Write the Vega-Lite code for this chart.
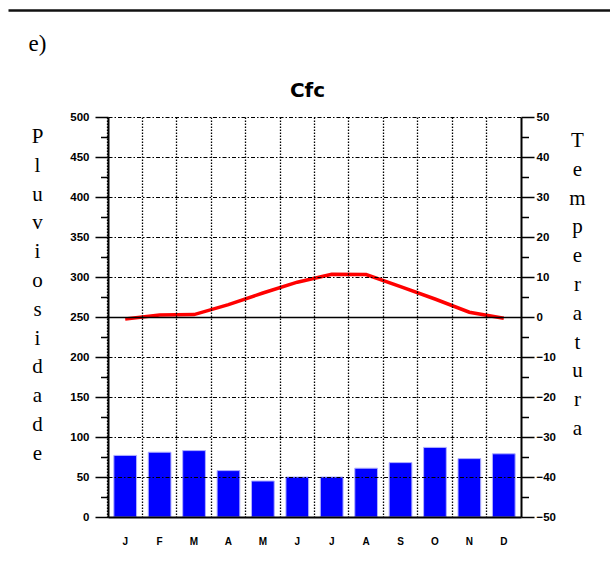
{
  "$schema": "https://vega.github.io/schema/vega-lite/v6.json",
  "width": 413,
  "height": 400,
  "autosize": {"type": "none"},
  "padding": {"left": 108, "top": 117, "right": 89, "bottom": 52},
  "background": "white",
  "config": {"view": {"stroke": null}},
  "title": {
    "text": "Cfc",
    "font": "DejaVu Sans",
    "fontSize": 20,
    "fontWeight": "bold",
    "color": "black",
    "anchor": "middle",
    "frame": "group",
    "baseline": "alphabetic",
    "dx": -7,
    "offset": -107
  },
  "data": {
    "values": [
      {"m": "Jan", "p": 77, "t": -0.5},
      {"m": "Feb", "p": 81, "t": 0.5},
      {"m": "Mar", "p": 83, "t": 0.6},
      {"m": "Apr", "p": 58, "t": 3.1},
      {"m": "May", "p": 45, "t": 6.0},
      {"m": "Jun", "p": 50, "t": 8.7},
      {"m": "Jul", "p": 50, "t": 10.7},
      {"m": "Aug", "p": 61, "t": 10.6},
      {"m": "Sep", "p": 68, "t": 7.6},
      {"m": "Oct", "p": 87, "t": 4.5},
      {"m": "Nov", "p": 73, "t": 1.2},
      {"m": "Dec", "p": 79, "t": -0.3}
    ]
  },
  "layer": [
    {
      "encoding": {
        "x": {
          "field": "m",
          "type": "nominal",
          "sort": null,
          "scale": {"paddingInner": 0.34, "paddingOuter": 0.17},
          "axis": {
            "bandPosition": -0.26,
            "labelOffset": 0,
            "grid": true,
            "gridDash": [1.5, 1.5],
            "gridColor": "black",
            "gridWidth": 1.3,
            "gridOpacity": 1,
            "ticks": false,
            "domain": true,
            "domainColor": "black",
            "domainWidth": 2,
            "labelExpr": "substring(datum.label, 0, 1)",
            "labelAngle": 0,
            "labelFont": "Liberation Sans",
            "labelFontSize": 10,
            "labelFontWeight": "bold",
            "labelColor": "black",
            "labelPadding": 19,
            "title": "e)",
            "titleFont": "Liberation Serif",
            "titleFontSize": 23,
            "titleFontWeight": "normal",
            "titleColor": "black",
            "titleAngle": 0,
            "titleAlign": "left",
            "titleBaseline": "alphabetic",
            "titleX": -80,
            "titleY": -467,
            "zindex": 1
          }
        }
      },
      "layer": [
        {
          "mark": {"type": "bar", "color": "#0000ff", "stroke": "#b0b0ff", "strokeWidth": 1},
          "encoding": {
            "y": {
              "field": "p",
              "type": "quantitative",
              "scale": {"domain": [0, 500], "nice": false, "zero": true},
              "axis": {
                "orient": "left",
                "values": [0, 25, 50, 75, 100, 125, 150, 175, 200, 225, 250, 275, 300, 325, 350, 375, 400, 425, 450, 475, 500],
                "labelExpr": "datum.value % 50 === 0 ? datum.label : ''",
                "tickSize": {"condition": {"test": "datum.value % 50 === 0", "value": 13}, "value": 7.5},
                "tickColor": "black",
                "tickWidth": 1.5,
                "domain": true,
                "domainColor": "black",
                "domainWidth": 2,
                "grid": true,
                "gridColor": "black",
                "gridOpacity": {"condition": {"test": "datum.value % 50 === 0", "value": 1}, "value": 0},
                "gridDash": {"condition": {"test": "datum.value === 250", "value": []}, "value": [4, 2, 1.5, 2]},
                "gridWidth": {"condition": {"test": "datum.value === 250", "value": 1.5}, "value": 1.2},
                "labelFont": "Liberation Sans",
                "labelFontSize": 11.5,
                "labelFontWeight": "bold",
                "labelColor": "black",
                "labelPadding": 6,
                "title": ["P", "l", "u", "v", "i", "o", "s", "i", "d", "a", "d", "e"],
                "titleFont": "Liberation Serif",
                "titleFontSize": 21,
                "titleFontWeight": "normal",
                "titleColor": "black",
                "titleAngle": 0,
                "titleAlign": "center",
                "titleBaseline": "top",
                "titleLineHeight": 28.8,
                "titleX": -71,
                "titleY": 8.6,
                "zindex": 1
              }
            }
          }
        },
        {
          "mark": {"type": "line", "color": "#ff0000", "strokeWidth": 3.5},
          "encoding": {
            "y": {
              "field": "t",
              "type": "quantitative",
              "scale": {"domain": [-50, 50], "nice": false, "zero": false},
              "axis": {
                "orient": "right",
                "values": [-50, -45, -40, -35, -30, -25, -20, -15, -10, -5, 0, 5, 10, 15, 20, 25, 30, 35, 40, 45, 50],
                "labelExpr": "datum.value % 10 === 0 ? datum.label : ''",
                "tickSize": {"condition": {"test": "datum.value % 10 === 0", "value": 13}, "value": 7.5},
                "tickColor": "black",
                "tickWidth": 1.5,
                "domain": true,
                "domainColor": "black",
                "domainWidth": 2,
                "grid": false,
                "labelFont": "Liberation Sans",
                "labelFontSize": 11.5,
                "labelFontWeight": "bold",
                "labelColor": "black",
                "labelPadding": 2,
                "title": ["T", "e", "m", "p", "e", "r", "a", "t", "u", "r", "a"],
                "titleFont": "Liberation Serif",
                "titleFontSize": 21,
                "titleFontWeight": "normal",
                "titleColor": "black",
                "titleAngle": 0,
                "titleAlign": "center",
                "titleBaseline": "top",
                "titleLineHeight": 28.8,
                "titleX": 56,
                "titleY": 12.6,
                "zindex": 1
              }
            }
          }
        }
      ],
      "resolve": {"scale": {"y": "independent"}, "axis": {"y": "independent"}}
    },
    {
      "mark": {"type": "point", "opacity": 0},
      "encoding": {
        "x": {
          "datum": 0,
          "type": "quantitative",
          "scale": {"domain": [0, 1], "range": [-100, 560], "nice": false, "zero": false},
          "axis": {
            "orient": "top",
            "offset": 107,
            "domain": true,
            "domainColor": "#111111",
            "domainWidth": 2.5,
            "ticks": false,
            "labels": false,
            "grid": false,
            "title": null
          }
        }
      }
    }
  ],
  "resolve": {"scale": {"x": "independent", "y": "independent"}, "axis": {"x": "independent", "y": "independent"}}
}
